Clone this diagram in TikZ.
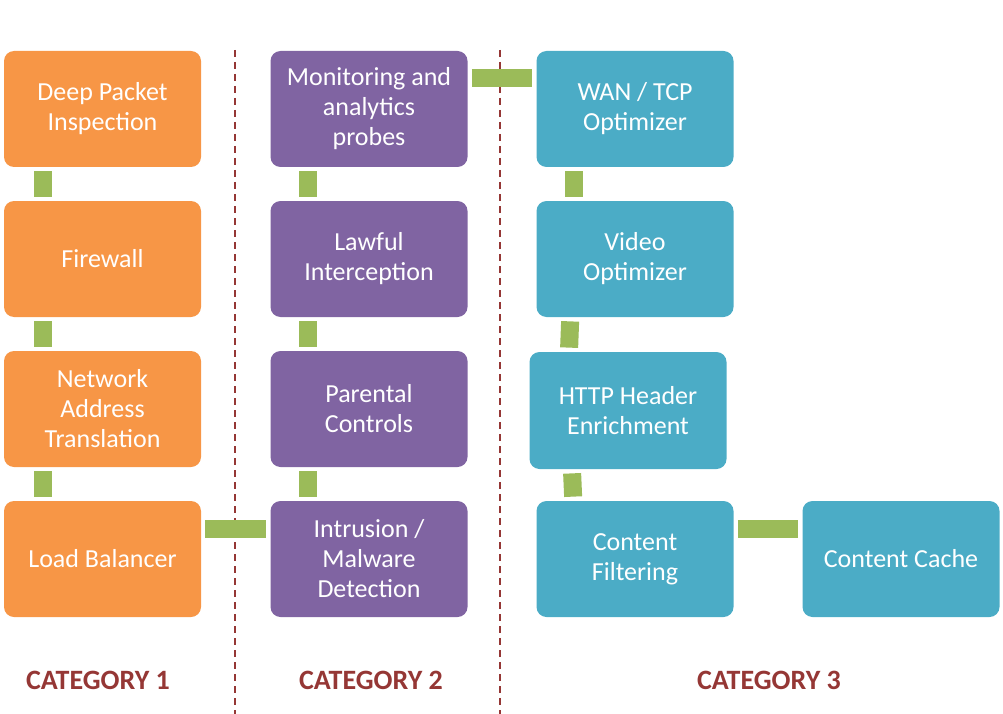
\documentclass[tikz,border=0pt]{standalone}
\usepackage{fontspec}
\setmainfont{Carlito}
\usetikzlibrary{calc}

\definecolor{boxorange}{RGB}{247,150,70}
\definecolor{boxpurple}{RGB}{128,100,162}
\definecolor{boxteal}{RGB}{75,172,198}
\definecolor{linkgreen}{RGB}{155,187,89}
\definecolor{catred}{RGB}{149,55,53}

\tikzset{every picture/.style={line width=0.75pt},
  fnbox/.style={rectangle, rounded corners=10pt, minimum width=197pt, minimum height=116pt,
    inner sep=0pt, align=center, text=white, font=\fontsize{26}{30}\selectfont},
  cat1box/.style={fnbox, fill=boxorange},
  cat2box/.style={fnbox, fill=boxpurple},
  cat3box/.style={fnbox, fill=boxteal},
  link/.style={draw=linkgreen, line width=18pt},
  divider/.style={draw=catred, line width=2.5pt, dash pattern=on 7pt off 5pt},
  catlabel/.style={text=catred, inner sep=0pt, font=\fontsize{28}{34}\selectfont\bfseries}}

\begin{document}
\begin{tikzpicture}[x=1pt,y=1pt,yscale=-1,xscale=1]
\useasboundingbox (0,0) rectangle (1003,714);

%Dashed Lines
\draw[divider] (235,50) -- (235,714);
\draw[divider] (500,50) -- (500,714);

%Shape: Rounded Rectangles, category 1
\node[cat1box] (dpi) at (102.5,109) {Deep Packet\\Inspection};
\node[cat1box] (fw) at (102.5,259) {Firewall};
\node[cat1box] (nat) at (102.5,409) {Network\\Address\\Translation};
\node[cat1box] (lb) at (102.5,559) {Load Balancer};
%Shape: Rounded Rectangles, category 2
\node[cat2box] (mon) at (369,109) {Monitoring and\\analytics\\probes};
\node[cat2box] (li) at (369,259) {Lawful\\Interception};
\node[cat2box] (pc) at (369,409) {Parental\\Controls};
\node[cat2box] (ids) at (369,559) {Intrusion /\\Malware\\Detection};
%Shape: Rounded Rectangles, category 3
\node[cat3box] (wan) at (635,109) {WAN / TCP\\Optimizer};
\node[cat3box] (vid) at (635,259) {Video\\Optimizer};
\node[cat3box, minimum height=117pt] (http) at (628,410.5) {HTTP Header\\Enrichment};
\node[cat3box] (cf) at (635,559) {Content\\Filtering};
\node[cat3box] (cache) at (901,559) {Content Cache};

%Straight Lines, vertical links
\draw[link] ($(dpi.south west)+(39,4)$) -- ($(fw.north west)+(39,-4)$);
\draw[link] ($(fw.south west)+(39,4)$) -- ($(nat.north west)+(39,-4)$);
\draw[link] ($(nat.south west)+(39,4)$) -- ($(lb.north west)+(39,-4)$);
\draw[link] ($(mon.south west)+(38,4)$) -- ($(li.north west)+(38,-4)$);
\draw[link] ($(li.south west)+(38,4)$) -- ($(pc.north west)+(38,-4)$);
\draw[link] ($(pc.south west)+(38,4)$) -- ($(ids.north west)+(38,-4)$);
\draw[link] ($(wan.south west)+(38,4)$) -- ($(vid.north west)+(38,-4)$);
\draw[link] ($(vid.south west)+(34,4)$) -- ($(http.north west)+(40,-4)$);
\draw[link] ($(http.south west)+(43,4)$) -- ($(cf.north west)+(37,-4)$);
%Straight Lines, horizontal links
\draw[link] ($(mon.north east)+(4,27)$) -- ($(wan.north west)+(-4,27)$);
\draw[link] ($(lb.north east)+(4,28)$) -- ($(ids.north west)+(-4,28)$);
\draw[link] ($(cf.north east)+(4,28)$) -- ($(cache.north west)+(-4,28)$);

% Text Node
\node[catlabel] (c1) at (98,680) {CATEGORY 1};
\node[catlabel] (c2) at (371,680) {CATEGORY 2};
\node[catlabel] (c3) at (769,680) {CATEGORY 3};

\end{tikzpicture}
\end{document}
